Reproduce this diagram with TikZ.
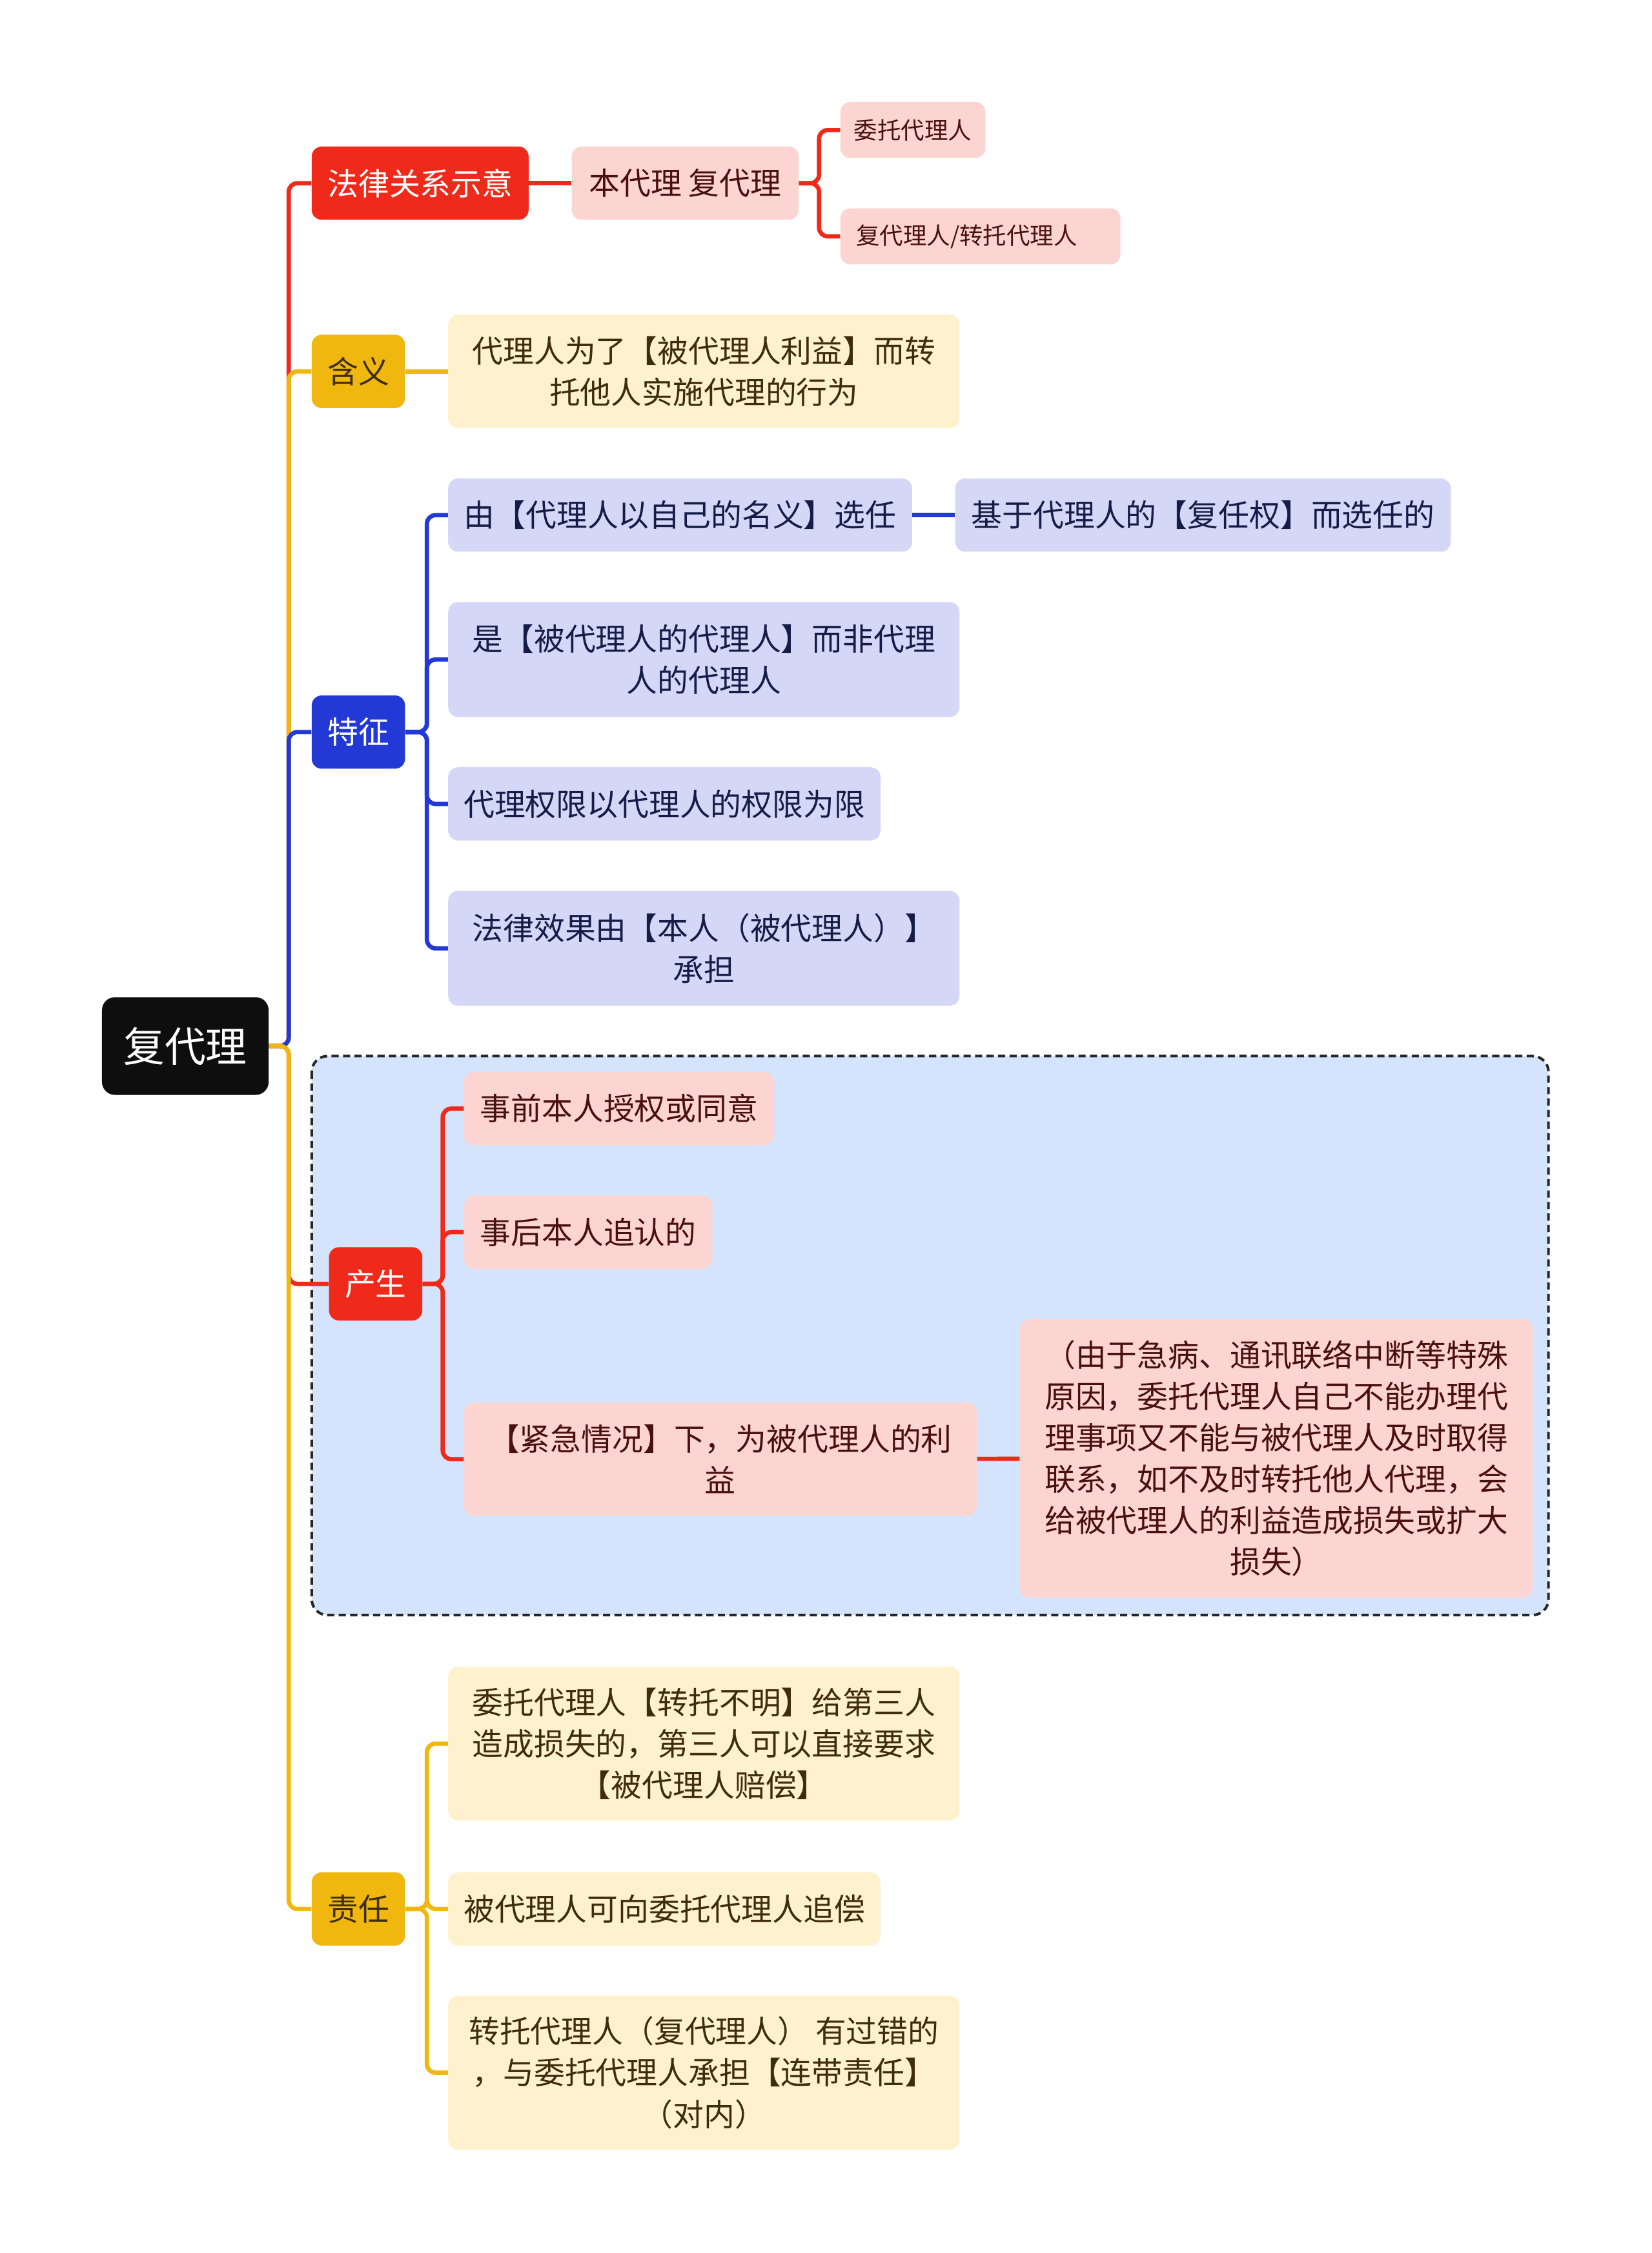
\documentclass[tikz,border=0pt]{standalone}
\usepackage{fontspec}
\setmainfont{Noto Sans CJK SC}
\definecolor{rootblack}{HTML}{0E0E0E}
\definecolor{redmain}{HTML}{F02A1B}
\definecolor{pinkfill}{HTML}{FCD5D2}
\definecolor{pinktext}{HTML}{4A1010}
\definecolor{goldmain}{HTML}{F0B80E}
\definecolor{creamfill}{HTML}{FDF1CE}
\definecolor{creamtext}{HTML}{3F2C0C}
\definecolor{bluemain}{HTML}{2339D6}
\definecolor{lavfill}{HTML}{D4D8F6}
\definecolor{lavtext}{HTML}{151C48}
\definecolor{zonefill}{HTML}{D4E4FC}
\definecolor{zoneline}{HTML}{262626}
\newcommand{\rootfnt}{\fontsize{28.7}{34}\selectfont}
\newcommand{\leaffnt}{\fontsize{21.5}{28.8}\selectfont}
\newcommand{\tinyfnt}{\fontsize{16.4}{20}\selectfont}
\tikzset{
  box/.style={rounded corners=7pt,inner sep=0pt,minimum height=51pt,align=center,font=\leaffnt},
  rootnode/.style={box,fill=rootblack,text=white,font=\rootfnt,minimum width=116pt,minimum height=68pt,rounded corners=9pt},
  redtopic/.style={box,fill=redmain,text=white},
  goldtopic/.style={box,fill=goldmain,text=creamtext},
  bluetopic/.style={box,fill=bluemain,text=white},
  pinkleaf/.style={box,fill=pinkfill,text=pinktext},
  creamleaf/.style={box,fill=creamfill,text=creamtext},
  lavleaf/.style={box,fill=lavfill,text=lavtext},
  tinyleaf/.style={pinkleaf,font=\tinyfnt,minimum height=39pt},
  link/.style={line width=3pt,rounded corners=6pt},
  redlink/.style={link,draw=redmain},
  goldlink/.style={link,draw=goldmain},
  bluelink/.style={link,draw=bluemain},
  dashzone/.style={draw=zoneline,fill=zonefill,line width=1.8pt,dash pattern=on 5pt off 3pt,rounded corners=11pt}
}
\begin{document}
\begin{tikzpicture}[x=1pt,y=-1pt]
\useasboundingbox (0,0) rectangle (1150,1568);
% shaded area round the branch 产生
\draw[dashzone] (217,735) rectangle (1078,1124);

% root and first level
\node[rootnode] (root) at (129,728) {复代理};
\coordinate (hub) at (201,728);
\node[redtopic,minimum width=151pt] (law) at (292.5,127.5) {法律关系示意};
\node[goldtopic,minimum width=65pt] (mean) at (249.5,258.5) {含义};
\node[bluetopic,minimum width=65pt] (feat) at (249.5,509.5) {特征};
\node[redtopic,minimum width=65pt] (rise) at (261.5,893.5) {产生};
\node[goldtopic,minimum width=65pt] (duty) at (249.5,1328.5) {责任};

% 法律关系示意
\node[pinkleaf,minimum width=158pt] (ben) at (477,127.5) {本代理 复代理};
\node[tinyleaf,minimum width=101pt] (wt) at (635.5,90.5) {委托代理人};
\node[tinyleaf,inner xsep=11pt,text width=173pt,align=left] (fz) at (682.5,164.5) {复代理人/转托代理人};

% 含义
\node[creamleaf,minimum width=356pt,minimum height=79pt] (def) at (490,258.5)
  {代理人为了【被代理人利益】而转\\托他人实施代理的行为};

% 特征
\node[lavleaf,minimum width=323pt] (f1) at (473.5,358.5) {由【代理人以自己的名义】选任};
\node[lavleaf,minimum width=345pt] (f1b) at (837.5,358.5) {基于代理人的【复任权】而选任的};
\node[lavleaf,minimum width=356pt,minimum height=80pt] (f2) at (490,459)
  {是【被代理人的代理人】而非代理\\人的代理人};
\node[lavleaf,minimum width=301pt] (f3) at (462.5,559.5) {代理权限以代理人的权限为限};
\node[lavleaf,minimum width=356pt,minimum height=80pt] (f4) at (490,660)
  {法律效果由【本人（被代理人）】\\承担};

% 产生
\node[pinkleaf,minimum width=216pt] (r1) at (431,771.5) {事前本人授权或同意};
\node[pinkleaf,minimum width=173pt] (r2) at (409.5,857.5) {事后本人追认的};
\node[pinkleaf,minimum width=357pt,minimum height=79pt] (r3) at (501.5,1015.5)
  {【紧急情况】下，为被代理人的利\\益};
\node[pinkleaf,minimum width=357pt,minimum height=194pt] (r3b) at (888.5,1015)
  {（由于急病、通讯联络中断等特殊\\原因，委托代理人自己不能办理代\\理事项又不能与被代理人及时取得\\联系，如不及时转托他人代理，会\\给被代理人的利益造成损失或扩大\\损失）};

% 责任
\node[creamleaf,minimum width=356pt,minimum height=107pt] (d1) at (490,1213.5)
  {委托代理人【转托不明】给第三人\\造成损失的，第三人可以直接要求\\【被代理人赔偿】};
\node[creamleaf,minimum width=301pt] (d2) at (462.5,1328.5) {被代理人可向委托代理人追偿};
\node[creamleaf,minimum width=356pt,minimum height=107pt] (d3) at (490,1442.5)
  {转托代理人（复代理人） 有过错的\\，与委托代理人承担【连带责任】\\（对内）};

% trunk
\draw[redlink] (root.east) -- (hub) |- (law.west);
\draw[goldlink] (root.east) -- (hub) |- (mean.west);
\draw[bluelink] (root.east) -- (hub) |- (feat.west);
\draw[redlink] (root.east) -- (hub) |- (rise.west);
\draw[goldlink] (root.east) -- (hub) |- (duty.west);

% branches
\draw[redlink] (law) -- (ben);
\foreach \n in {wt,fz}
  \draw[redlink] (ben.east) -- ++(14,0) |- (\n.west);
\draw[goldlink] (mean) -- (def);
\foreach \n in {f1,f2,f3,f4}
  \draw[bluelink] (feat.east) -- ++(15,0) |- (\n.west);
\draw[bluelink] (f1) -- (f1b);
\foreach \n in {r1,r2,r3}
  \draw[redlink] (rise.east) -- ++(14,0) |- (\n.west);
\draw[redlink] (r3) -- (r3b);
\foreach \n in {d1,d2,d3}
  \draw[goldlink] (duty.east) -- ++(15,0) |- (\n.west);
\end{tikzpicture}
\end{document}
